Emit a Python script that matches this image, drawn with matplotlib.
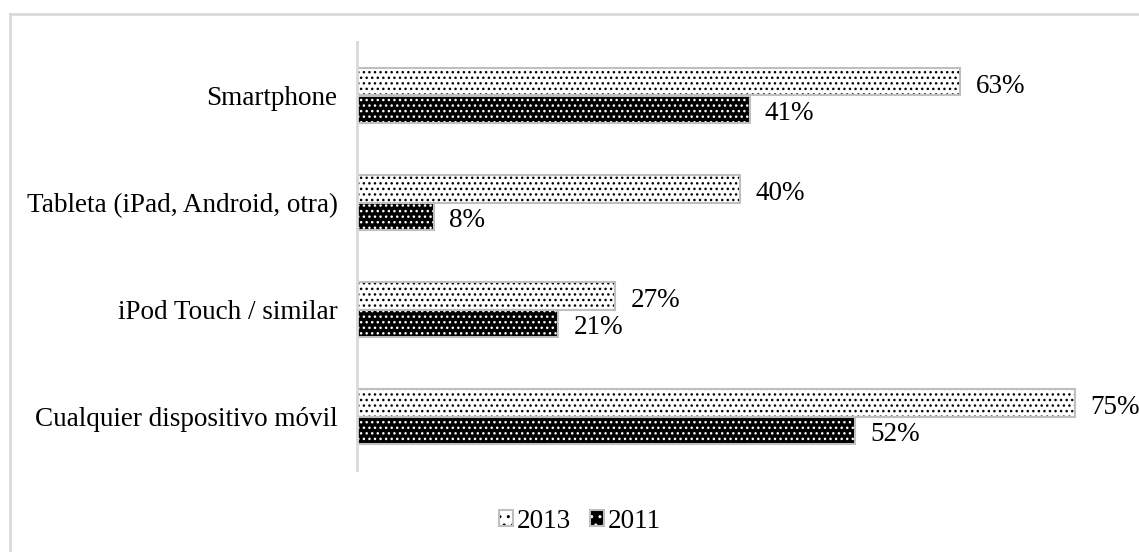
import matplotlib
matplotlib.use("Agg")
import matplotlib.pyplot as plt
from matplotlib.lines import Line2D
from matplotlib.patches import Patch
from matplotlib.legend_handler import HandlerTuple
import numpy as np

categories = ["Smartphone", "Tableta (iPad, Android, otra)",
              "iPod Touch / similar", "Cualquier dispositivo móvil"]
values_2013 = [63, 40, 27, 75]
values_2011 = [41, 8, 21, 52]
series_labels = ["2013", "2011"]

plt.rcParams["font.family"] = ["Liberation Serif", "DejaVu Serif"]
plt.rcParams["hatch.linewidth"] = 1.0

W, H = 1139, 552
FS = 19.5
fig = plt.figure(figsize=(W / 100, H / 100), dpi=100)

# outer frame of the chart area (left and top edges)
frame_kw = dict(transform=fig.transFigure, color="#d9d9d9", linewidth=2.0)
fig.add_artist(Line2D([9.5 / W, 9.5 / W], [0, 1 - 13.5 / H], **frame_kw))
fig.add_artist(Line2D([9.5 / W, 1.0], [1 - 13.5 / H, 1 - 13.5 / H], **frame_kw))

ax_left, ax_right = 357, 1103
ax_top, ax_bottom = 42, 470
ax = fig.add_axes([ax_left / W, 1 - ax_bottom / H, (ax_right - ax_left) / W,
                   (ax_bottom - ax_top) / H])

xmax = (ax_right - ax_left) / (718 / 75)
n = len(categories)
y = np.arange(n)
h = 0.255
hatch = "..."
border = "#bfbfbf"

for vals, off, face, hc in [(values_2013, -h / 2, "white", "black"),
                            (values_2011, h / 2, "black", "white")]:
    ax.barh(y + off, vals, height=h, color=face, edgecolor=hc, hatch=hatch,
            linewidth=0)
    ax.barh(y + off, vals, height=h, fill=False, edgecolor=border, linewidth=1.5)
    for yi, v in zip(y, vals):
        ax.text(v + 1.6, yi + off + 0.04, f"{v}%", fontsize=FS, va="center", ha="left")

ax.set_xlim(0, xmax)
ax.set_ylim(n - 0.5, -0.5)
ax.set_yticks(y)
ax.set_yticklabels(categories, fontsize=FS)
ax.tick_params(axis="y", length=0, pad=14)
ax.set_xticks([])
for s in ["top", "right", "bottom"]:
    ax.spines[s].set_visible(False)
ax.spines["left"].set_color("#d9d9d9")
ax.spines["left"].set_linewidth(2)

handles = [
    (Patch(facecolor="white", edgecolor="black", hatch="..", linewidth=0),
     Patch(fill=False, edgecolor=border, linewidth=1.5)),
    (Patch(facecolor="black", edgecolor="white", hatch="..", linewidth=0),
     Patch(fill=False, edgecolor=border, linewidth=1.5)),
]
fig.legend(handles, series_labels, loc="center", bbox_to_anchor=(580 / W, 1 - 521 / H),
           ncol=2, frameon=False, fontsize=FS, handlelength=0.5, handleheight=0.5,
           handletextpad=0.15, columnspacing=0.7,
           handler_map={tuple: HandlerTuple(ndivide=1)})

fig.savefig("out.png", dpi=100, facecolor="white")
